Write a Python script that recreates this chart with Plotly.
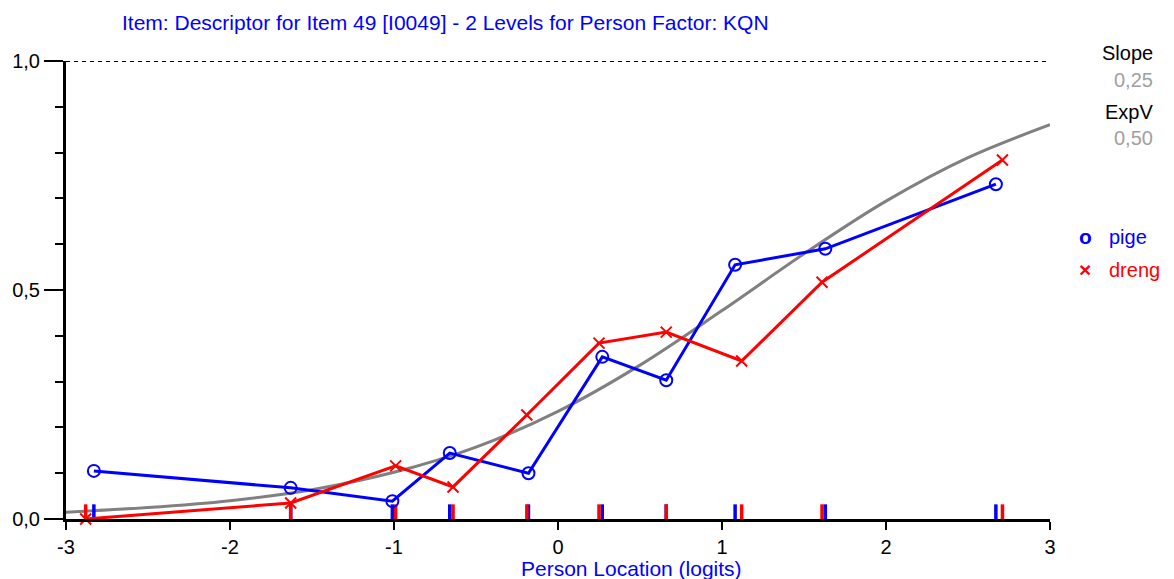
import plotly.graph_objects as go

# ---- data ----
pige_x = [-2.83, -1.63, -1.01, -0.66, -0.18, 0.27, 0.66, 1.08, 1.63, 2.67]
pige_y = [0.105, 0.068, 0.039, 0.144, 0.100, 0.354, 0.303, 0.555, 0.590, 0.731]

dreng_x = [-2.88, -1.63, -0.99, -0.64, -0.19, 0.25, 0.66, 1.12, 1.61, 2.71]
dreng_y = [0.000, 0.035, 0.116, 0.070, 0.227, 0.384, 0.408, 0.345, 0.517, 0.784]

icc_x = [-3.0, -2.5, -2.0, -1.5, -1.0, -0.5, 0.0, 0.5, 1.0, 1.5, 2.0, 2.5, 3.0]
icc_y = [0.015, 0.025, 0.040, 0.064, 0.102, 0.157, 0.235, 0.336, 0.455, 0.579, 0.694, 0.789, 0.861]

x_ticks = [-3, -2, -1, 0, 1, 2, 3]
x_ticklabels = ["-3", "-2", "-1", "0", "1", "2", "3"]
y_ticks = [0.0, 0.5, 1.0]
y_ticklabels = ["0,0", "0,5", "1,0"]

title_text = "Item: Descriptor for Item 49 [I0049] - 2 Levels for Person Factor: KQN"
xaxis_title = "Person Location (logits)"
slope_value = "0,25"
expv_value = "0,50"

BLUE = "#0000FF"
RED = "#FF0000"
GREY = "#808080"
FONT = "Liberation Sans"
FS = 20
RUG_H = 0.032

fig = go.Figure()

# ICC grey curve
fig.add_trace(go.Scatter(x=icc_x, y=icc_y, mode="lines", line=dict(color=GREY, width=3, shape="spline"),
                         hoverinfo="skip", showlegend=False))

# rug marks
def rug(xs, color):
    rx, ry = [], []
    for v in xs:
        rx += [v, v, None]
        ry += [0, RUG_H, None]
    return go.Scatter(x=rx, y=ry, mode="lines", line=dict(color=color, width=3.5),
                      hoverinfo="skip", showlegend=False, cliponaxis=False)

fig.add_trace(rug(pige_x, BLUE))
fig.add_trace(rug(dreng_x, RED))

fig.add_trace(go.Scatter(x=pige_x, y=pige_y, mode="lines+markers", name="pige",
                         line=dict(color=BLUE, width=3),
                         marker=dict(symbol="circle-open", size=12, color=BLUE, line=dict(width=2)),
                         showlegend=False, cliponaxis=False))
fig.add_trace(go.Scatter(x=dreng_x, y=dreng_y, mode="lines+markers", name="dreng",
                         line=dict(color=RED, width=3),
                         marker=dict(symbol="x-thin", size=11, color=RED, line=dict(width=2, color=RED)),
                         showlegend=False, cliponaxis=False))

# dotted line at 1.0
fig.add_shape(type="line", xref="x", yref="y", x0=-3, x1=3, y0=1, y1=1,
              line=dict(color="black", width=2, dash="4px,4px"))

def a(text, x, y, color, anchor="center", size=FS):
    return dict(text=text, x=x, y=y, xref="paper", yref="paper", xanchor=anchor, yanchor="middle",
                showarrow=False, font=dict(color=color, size=size, family=FONT))

ann = [
    a(title_text, 0.386, 1.085, BLUE, size=21),
    a(xaxis_title, 0.575, -0.107, BLUE, size=21),
    a("Slope", 1.107, 1.017, "black", "right"),
    a(slope_value, 1.107, 0.958, "#A0A0A0", "right"),
    a("ExpV", 1.107, 0.889, "black", "right"),
    a(expv_value, 1.107, 0.832, "#A0A0A0", "right"),
    a("<b>o</b>", 1.036, 0.616, BLUE, size=21),
    a("pige", 1.058, 0.616, BLUE, "left"),
    a("<b>×</b>", 1.036, 0.544, RED, size=21),
    a("dreng", 1.058, 0.544, RED, "left"),
]

fig.update_layout(
    width=1166, height=571,
    margin=dict(l=58, r=124, t=53, b=60, autoexpand=False),
    paper_bgcolor="white", plot_bgcolor="white",
    font=dict(family=FONT, size=FS, color="black"),
    annotations=ann,
    xaxis=dict(range=[-3, 3], tickvals=x_ticks, ticktext=x_ticklabels, showgrid=False, zeroline=False,
               automargin=False,
               showline=True, linecolor="black", linewidth=3, ticks="outside", ticklen=8, tickwidth=2,
               tickcolor="black", tickfont=dict(size=FS, color="black")),
    yaxis=dict(range=[0, 1], tickvals=y_ticks, ticktext=y_ticklabels, showgrid=False, zeroline=False,
               automargin=False,
               showline=True, linecolor="black", linewidth=3, ticks="outside", ticklen=19, tickwidth=2,
               tickcolor="black", tickfont=dict(size=FS, color="black"), ticklabelstandoff=0,
               minor=dict(dtick=0.1, ticks="outside", ticklen=8, tickwidth=1.5, tickcolor="black", showgrid=False)),
)

fig.write_html("out.html")
